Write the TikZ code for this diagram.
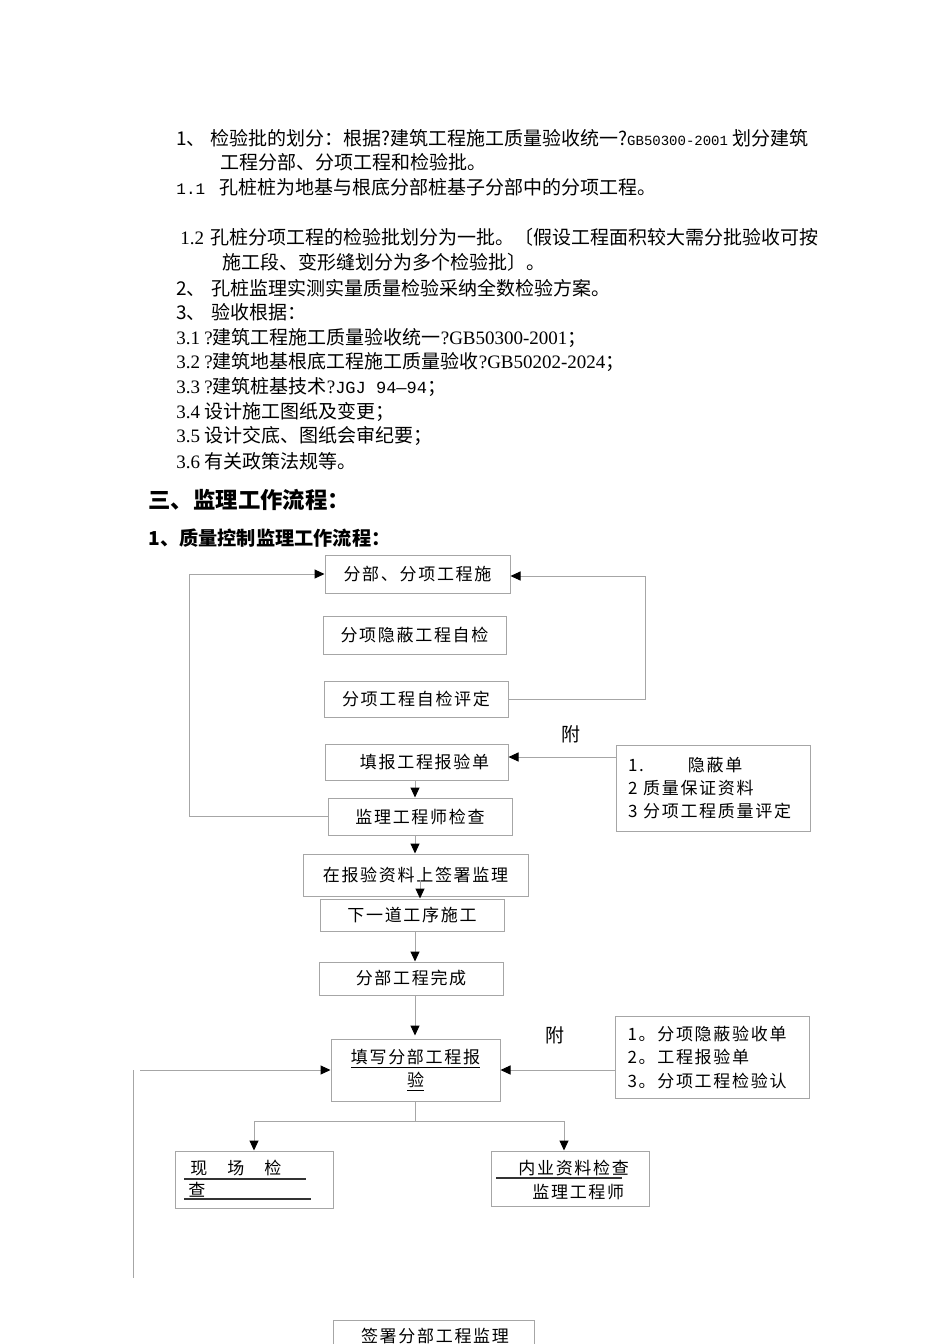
\documentclass[tikz,border=0pt]{standalone}
\usepackage{fontspec}
\setmainfont{Noto Sans CJK SC}
\newfontfamily\latnf{Liberation Serif}
\newfontfamily\monof{Liberation Mono}
\newfontfamily\boxf[LetterSpace=10]{Noto Sans CJK SC}
\usetikzlibrary{arrows.meta}

\begin{document}
\begin{tikzpicture}[x=0.5pt,y=-0.5pt,
    bodytext/.style={anchor=west,inner sep=0pt,font=\fontsize{9.5}{11}\selectfont},
    headtext/.style={anchor=west,inner sep=0pt,font=\fontsize{11.2}{13}\selectfont\bfseries},
    boxtext/.style={anchor=west,inner sep=0pt,font=\boxf\fontsize{8.5}{11}\selectfont},
    flowbox/.style={draw=black!35,line width=0.5pt,inner sep=0pt,font=\boxf\fontsize{8.5}{11.5}\selectfont},
    notebox/.style={flowbox,align=left,inner xsep=6pt,text width=85pt},
    flowline/.style={draw=black!35,line width=0.5pt},
    flowarrow/.style={flowline,-{Triangle[length=5pt,width=4.5pt,color=black,fill=black]}},
    underl/.style={draw=black!80,line width=0.6pt}
    ]
    \useasboundingbox (0,0) rectangle (950,1344);

    % text above the chart
    \node[bodytext] (t1) at (176,138) {1、 检验批的划分：根据?建筑工程施工质量验收统一?{\monof\fontsize{7}{10}\selectfont GB50300-2001} 划分建筑};
    \node[bodytext] (t2) at (220,162) {工程分部、分项工程和检验批。};
    \node[bodytext] (t3) at (176,187) {{\monof\fontsize{8}{10}\selectfont 1.1}\hspace{7pt}孔桩桩为地基与根底分部桩基子分部中的分项工程。};
    \node[bodytext] (t4) at (180,237) {{\latnf 1.2}\hspace{3pt}孔桩分项工程的检验批划分为一批。〔假设工程面积较大需分批验收可按};
    \node[bodytext] (t5) at (222,262) {施工段、变形缝划分为多个检验批〕。};
    \node[bodytext] (t6) at (176,288) {2、\hspace{3pt}孔桩监理实测实量质量检验采纳全数检验方案。};
    \node[bodytext] (t7) at (176,312) {3、\hspace{3pt}验收根据：};
    \foreach \n/\yy/\txt in {1/338/{{\latnf ?}建筑工程施工质量验收统一{\latnf ?GB50300-2001}；},
      2/362/{{\latnf ?}建筑地基根底工程施工质量验收{\latnf ?GB50202-2024}；},
      3/387/{{\latnf ?}建筑桩基技术{\latnf ?}{\monof\fontsize{8.5}{10}\selectfont JGJ 94—94}；},
      4/412/{设计施工图纸及变更；},
      5/436/{设计交底、图纸会审纪要；},
      6/461/{有关政策法规等。}} {
      \node[bodytext] (r\n) at (176,\yy) {{\latnf 3.\n} \txt};
    }
    \node[headtext] (h1) at (148,500) {三、监理工作流程：};
    \node[headtext,font=\fontsize{9.6}{11}\selectfont\bfseries] (h2) at (148,538) {1、质量控制监理工作流程：};

    % chart boxes
    \node[flowbox,minimum width=92.5pt,minimum height=19pt] (b1) at (417.5,574) {分部、分项工程施};
    \node[flowbox,minimum width=91.5pt,minimum height=19pt] (b2) at (414.5,635) {分项隐蔽工程自检};
    \node[flowbox,minimum width=92pt,minimum height=18pt] (b3) at (416,699) {分项工程自检评定};
    \node[flowbox,minimum width=91.5pt,minimum height=18pt] (b4) at (416.5,762) {\hspace{8pt}填报工程报验单};
    \node[notebox,minimum height=43pt] (a1) at (713,788)
      {1.\hspace{22pt}隐蔽单\\2 质量保证资料\\3 分项工程质量评定};
    \node[flowbox,minimum width=92pt,minimum height=18.5pt] (b5) at (420,816.5) {监理工程师检查};
    \node[flowbox,minimum width=112.5pt,minimum height=21pt] (b6) at (415.5,875) {在报验资料上签署监理};
    \node[flowbox,minimum width=92pt,minimum height=16pt] (b7) at (412,915) {下一道工序施工};
    \node[flowbox,minimum width=92pt,minimum height=16.5pt] (b8) at (411,978.5) {分部工程完成};
    \node[flowbox,minimum width=84.5pt,minimum height=31pt,align=center] (b9) at (415.5,1070)
      {\underline{填写分部工程报}\\\underline{验}};
    \node[notebox,minimum height=41pt,font=\boxf\fontsize{8.5}{11.75}\selectfont] (a2) at (712.5,1057)
      {1。分项隐蔽验收单\\2。工程报验单\\3。分项工程检验认};
    \node[bodytext] (fu1) at (561,734) {附};
    \node[bodytext] (fu2) at (545,1035) {附};

    \node[flowbox,minimum width=79pt,minimum height=28.5pt] (b10) at (254,1179.5) {};
    \node[boxtext] (b10a) at (190,1168) {现\hspace{10pt}场\hspace{10pt}检};
    \node[boxtext] (b10b) at (188,1190) {查};
    \draw[underl] (184,1179) -- (306,1179);
    \draw[underl] (184,1199) -- (311,1199);

    \node[flowbox,minimum width=79pt,minimum height=27.5pt] (b11) at (570,1178.5) {};
    \node[boxtext] (b11a) at (518,1168) {内业资料检查};
    \node[boxtext] (b11b) at (532,1192) {监理工程师};
    \draw[underl] (496,1178) -- (622,1178);

    \node[flowbox,minimum width=100.5pt,minimum height=25pt] (b12) at (433.5,1345) {};
    \node[boxtext,anchor=center] (b12a) at (435,1336) {签署分部工程监理};

    % connectors
    \coordinate (spine) at (415,0);
    \coordinate (spine2) at (420,0);
    \coordinate (lloop) at (189,0);
    \coordinate (rloop) at (645,0);
    \draw[flowarrow] (b5.west) -- (b5.west -| lloop) |- (b1.west);
    \draw[flowarrow] (b3.east) -- (b3.east -| rloop) |- ([yshift=-1pt]b1.east);
    \draw[flowarrow] (a1.west |- b4.east) ++(0,-5) -- ([yshift=2.5pt]b4.east);
    \draw[flowarrow] (b4.south -| spine) -- (b5.north -| spine);
    \draw[flowarrow] (b5.south -| spine) -- (b6.north -| spine);
    \draw[flowarrow] ([yshift=-2.5pt]b6.center -| spine2) -- (b7.north -| spine2);
    \draw[flowarrow] (b7.south -| spine) -- (b8.north -| spine);
    \draw[flowarrow] (b8.south -| spine) -- ([yshift=1.5pt]b9.north -| spine);
    \draw[flowarrow] (a2.west |- b9.east) -- (b9.east);
    \coordinate (lin) at (140,1070);
    \coordinate (vtop) at (133,1070);
    \coordinate (vbot) at (133,1278);
    \draw[flowarrow] (lin) -- (b9.west);
    \draw[flowline] (vtop) -- (vbot);
    \coordinate (split) at (415,1121);
    \draw[flowline] (b9.south -| spine) -- (split);
    \draw[flowarrow] (split) -| (b10.north);
    \draw[flowarrow] (split) -| ([xshift=-3pt]b11.north);
\end{tikzpicture}
\end{document}
